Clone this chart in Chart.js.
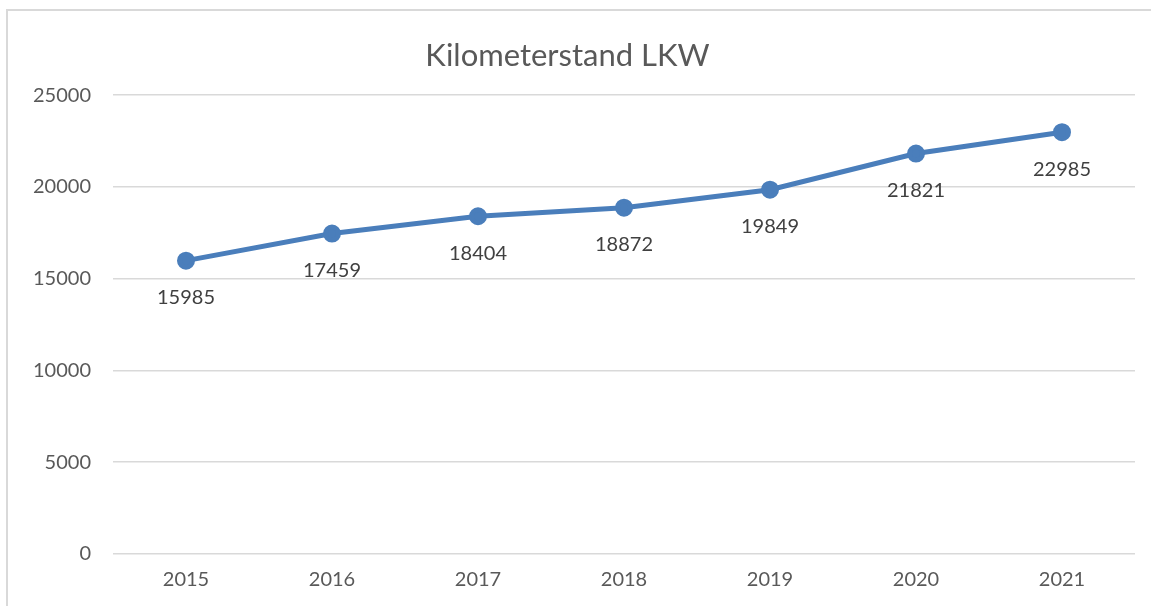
<!DOCTYPE html>
<html>
<head>
<meta charset="utf-8">
<script src="https://cdn.jsdelivr.net/npm/chart.js@4.4.0/dist/chart.umd.min.js"></script>
<style>
  html, body { margin: 0; padding: 0; background: #fff; }
  #frame { position: absolute; left: 6px; top: 9px; width: 1145px; height: 597px;
           border-top: 2px solid #d9d9d9; border-left: 2px solid #d9d9d9; }
  #kmChart { position: absolute; left: 0; top: 0; }
</style>
</head>
<body>
<div id="frame"></div>
<canvas id="kmChart" width="1151" height="606"></canvas>
<script>
const years = ['2015', '2016', '2017', '2018', '2019', '2020', '2021'];
const kmValues = [15985, 17459, 18404, 18872, 19849, 21821, 22985];
const yTicks = [0, 5000, 10000, 15000, 20000, 25000];

const FONT = 'Lato, "Open Sans", sans-serif';

// draws the value under each point
const valueLabels = {
  id: 'valueLabels',
  afterDatasetsDraw(chart) {
    const ctx = chart.ctx;
    const meta = chart.getDatasetMeta(0);
    ctx.save();
    ctx.font = '20px ' + FONT;
    ctx.fillStyle = '#404040';
    ctx.textAlign = 'center';
    ctx.textBaseline = 'middle';
    meta.data.forEach((pt, i) => {
      ctx.fillText(String(chart.data.datasets[0].data[i]), pt.x, pt.y + 37);
    });
    ctx.restore();
  }
};

const kmCtx = document.getElementById('kmChart').getContext('2d');
new Chart(kmCtx, {
  type: 'line',
  data: {
    labels: years,
    datasets: [{
      label: 'Kilometerstand LKW',
      data: kmValues,
      borderColor: '#4a7ebb',
      backgroundColor: '#4a7ebb',
      borderWidth: 5,
      pointRadius: 6.5,
      pointHoverRadius: 6.5,
      tension: 0
    }]
  },
  options: {
    responsive: false,
    animation: false,
    layout: { padding: { top: 13, right: 16, bottom: 0, left: 0 } },
    plugins: {
      legend: { display: false },
      tooltip: { enabled: false },
      title: {
        display: true,
        text: 'Kilometerstand LKW',
        color: '#595959',
        font: { family: FONT, size: 31, weight: 'normal' },
        padding: { top: 24, bottom: 21 }
      }
    },
    scales: {
      x: {
        offset: true,
        grid: { display: false, drawTicks: false },
        border: { display: false },
        ticks: { color: '#595959', font: { family: FONT, size: 20 }, padding: 14 }
      },
      y: {
        min: 0,
        max: 25000,
        afterBuildTicks: (scale) => { scale.ticks = yTicks.map(v => ({ value: v })); },
        afterFit: (scale) => { scale.width = 113; },
        grid: { color: '#d9d9d9', lineWidth: 1.5, drawTicks: false },
        border: { display: false },
        ticks: {
          color: '#595959', font: { family: FONT, size: 20 }, padding: 22,
          callback: (v) => String(v)
        }
      }
    }
  },
  plugins: [valueLabels]
});
</script>
</body>
</html>
